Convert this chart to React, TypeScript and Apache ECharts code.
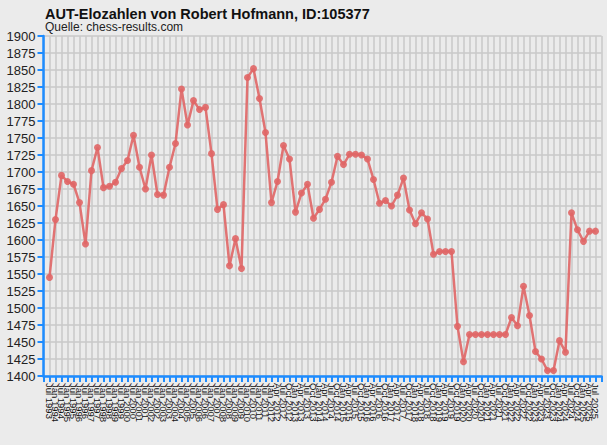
import { useEffect, useRef } from 'react';
import * as echarts from 'echarts';

// rating list dates: semi-annual until Jan 2012, quarterly afterwards
const semiDates: string[] = [];
for (let y = 1993; y <= 2012; y++) {
  if (y > 1993) semiDates.push(`Jan ${y}`);
  if (y < 2012) semiDates.push(`Jul ${y}`);
}
const quarterDates: string[] = [];
for (let y = 2012; y <= 2025; y++) {
  ['Jan', 'Apr', 'Jul', 'Oct'].forEach((m) => {
    if (y === 2012 && m === 'Jan') return;
    if (y === 2025 && m === 'Oct') return;
    quarterDates.push(`${m} ${y}`);
  });
}
const dates = [...semiDates, ...quarterDates];

const ratings = [
  1545, 1630, 1695, 1686, 1682, 1655, 1594, 1702, 1736, 1677,
  1679, 1685, 1705, 1717, 1754, 1707, 1675, 1725, 1667, 1666,
  1707, 1742, 1822, 1769, 1805, 1792, 1795, 1727, 1645, 1652,
  1562, 1602, 1558, 1839, 1852, 1808, 1758, 1655, 1686, 1739,
  1719, 1641, 1669, 1682, 1632, 1645, 1660, 1685, 1723, 1711,
  1726, 1726, 1725, 1719, 1689, 1654, 1658, 1650, 1666, 1691,
  1644, 1624, 1640, 1631, 1579, 1583, 1583, 1583, 1473, 1421,
  1461, 1461, 1461, 1461, 1461, 1461, 1461, 1486, 1474, 1532,
  1489, 1436, 1425, 1408, 1408, 1452, 1435, 1640, 1615, 1598,
  1613, 1613,
];

const yMin = 1400;
const yMax = 1900;
const yStep = 25;

const axisBlue = '#1e8cff';
const lineRed = '#e06666';

export default function App() {
  const chartRef = useRef<HTMLDivElement>(null);

  useEffect(() => {
    if (!chartRef.current) {
      return;
    }
    const chart = echarts.init(chartRef.current, null, { renderer: 'svg' });

    // empty slot at each end, as in the original
    const categories = ['', ...dates, ''];
    const values: (number | null)[] = [null, ...ratings, null];

    chart.setOption({
      animation: false,
      backgroundColor: '#ebebeb',
      title: {
        text: 'AUT-Elozahlen von Robert Hofmann, ID:105377',
        subtext: 'Quelle: chess-results.com',
        left: 40,
        top: 1,
        itemGap: 0,
        textStyle: {
          fontFamily: 'Liberation Sans',
          fontSize: 14.5,
          fontWeight: 'bold',
          color: '#111',
        },
        subtextStyle: {
          fontFamily: 'Liberation Sans',
          fontSize: 12,
          color: '#222',
        },
      },
      grid: {
        left: 43.5,
        right: 5.5,
        top: 36,
        bottom: 69,
        containLabel: false,
      },
      xAxis: {
        type: 'category',
        data: categories,
        boundaryGap: false,
        axisLine: { lineStyle: { color: axisBlue, width: 2.5 } },
        axisTick: {
          interval: 0,
          length: 6,
          lineStyle: { color: axisBlue, width: 2 },
        },
        axisLabel: {
          interval: 0,
          rotate: -90,
          fontSize: 9.5,
          margin: 7,
          color: '#111',
          fontFamily: 'Liberation Sans',
        },
        splitLine: {
          show: true,
          interval: 0,
          lineStyle: { color: '#c8c8c8', width: 1.5 },
        },
      },
      yAxis: {
        type: 'value',
        min: yMin,
        max: yMax,
        interval: yStep,
        axisLine: { show: true, lineStyle: { color: axisBlue, width: 2.5 } },
        axisTick: {
          show: true,
          length: 6,
          lineStyle: { color: axisBlue, width: 2 },
        },
        axisLabel: {
          fontSize: 13,
          margin: 8,
          color: '#222',
          fontFamily: 'Liberation Sans',
          formatter: (v: number) => String(v),
        },
        splitLine: {
          show: true,
          lineStyle: { color: '#c8c8c8', width: 1.5 },
        },
      },
      series: [
        {
          type: 'line',
          data: values,
          symbol: 'circle',
          symbolSize: 7,
          connectNulls: false,
          lineStyle: { color: lineRed, width: 2.5, opacity: 0.9 },
          itemStyle: { color: lineRed, opacity: 0.9 },
        },
      ],
    });

    return () => {
      chart.dispose();
    };
  }, []);

  return (
    <div
      ref={chartRef}
      style={{ position: 'fixed', left: 0, top: 0, width: 607, height: 445 }}
    />
  );
}
